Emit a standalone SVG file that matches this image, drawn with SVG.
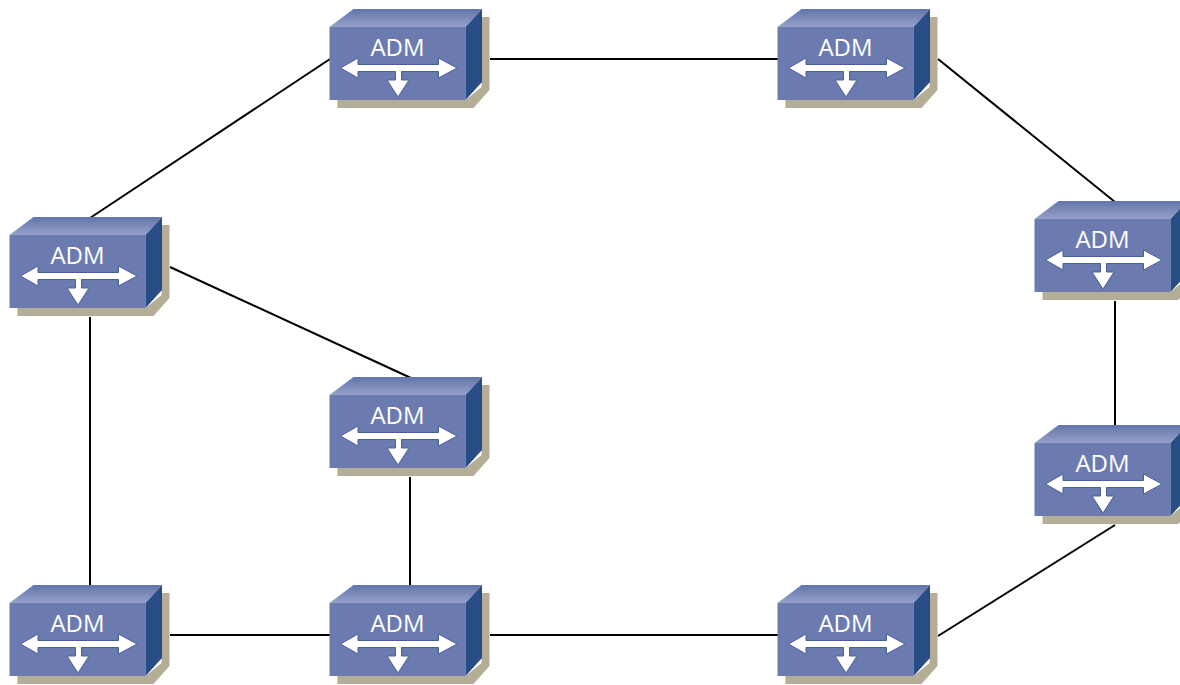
<svg xmlns="http://www.w3.org/2000/svg" width="1180" height="685" viewBox="0 0 1180 685">
<style>
.link{stroke:#000;stroke-width:2;fill:none}
.shadow{fill:#b5ad97}
.front{fill:#6b7bb0}
.side{fill:#284c84}
.top{fill:url(#topGrad)}
.arrow{fill:#fff;stroke:#4a5f97;stroke-width:1;stroke-linejoin:miter}
.label{font-family:"Open Sans","Liberation Sans",sans-serif;font-size:24px;fill:#fff;text-anchor:middle}
</style>
<defs>
<linearGradient id="topGrad" x1="0" y1="0" x2="0" y2="1">
<stop offset="0" stop-color="#6474aa"/>
<stop offset="1" stop-color="#95a1c8"/>
</linearGradient>
<g id="box">
<path class="shadow" d="M8 73V81H144L160 63V-10H152V60L136 73Z"/>
<path class="front" d="M0 0H136V73H0Z"/>
<path class="top" d="M0 0L24 -18H152.500L136 0Z"/>
<path class="side" d="M136 0L152.500 -18V55L136 73Z"/>
<path class="arrow" d="M11 41L28.500 31V37.500H109V31L127.500 41L109 51V44.500H72V53H79.500L68.500 70L57.500 53H66V44.500H28.500V51Z"/>
</g>
</defs>
<g id="connectors">
<line class="link" x1="330" y1="59" x2="90" y2="218"/>
<line class="link" x1="490" y1="59" x2="778" y2="59"/>
<line class="link" x1="938" y1="59" x2="1115" y2="202"/>
<line class="link" x1="1115" y1="301" x2="1115" y2="426"/>
<line class="link" x1="1115" y1="525" x2="938" y2="636"/>
<line class="link" x1="778" y1="635" x2="490" y2="635"/>
<line class="link" x1="330" y1="635" x2="170" y2="635"/>
<line class="link" x1="90" y1="586" x2="90" y2="317"/>
<line class="link" x1="170" y1="267" x2="411" y2="378"/>
<line class="link" x1="410" y1="477" x2="410" y2="586"/>
</g>
<g id="node1" transform="translate(329.500 27)"><use href="#box"/><text class="label" x="68" y="29">ADM</text></g>
<g id="node2" transform="translate(777.500 27)"><use href="#box"/><text class="label" x="68" y="29">ADM</text></g>
<g id="node3" transform="translate(1034.500 219)"><use href="#box"/><text class="label" x="68" y="29">ADM</text></g>
<g id="node4" transform="translate(1034.500 443)"><use href="#box"/><text class="label" x="68" y="29">ADM</text></g>
<g id="node5" transform="translate(9.500 235)"><use href="#box"/><text class="label" x="68" y="29">ADM</text></g>
<g id="node6" transform="translate(329.500 395)"><use href="#box"/><text class="label" x="68" y="29">ADM</text></g>
<g id="node7" transform="translate(9.500 603)"><use href="#box"/><text class="label" x="68" y="29">ADM</text></g>
<g id="node8" transform="translate(329.500 603)"><use href="#box"/><text class="label" x="68" y="29">ADM</text></g>
<g id="node9" transform="translate(777.500 603)"><use href="#box"/><text class="label" x="68" y="29">ADM</text></g>
</svg>
